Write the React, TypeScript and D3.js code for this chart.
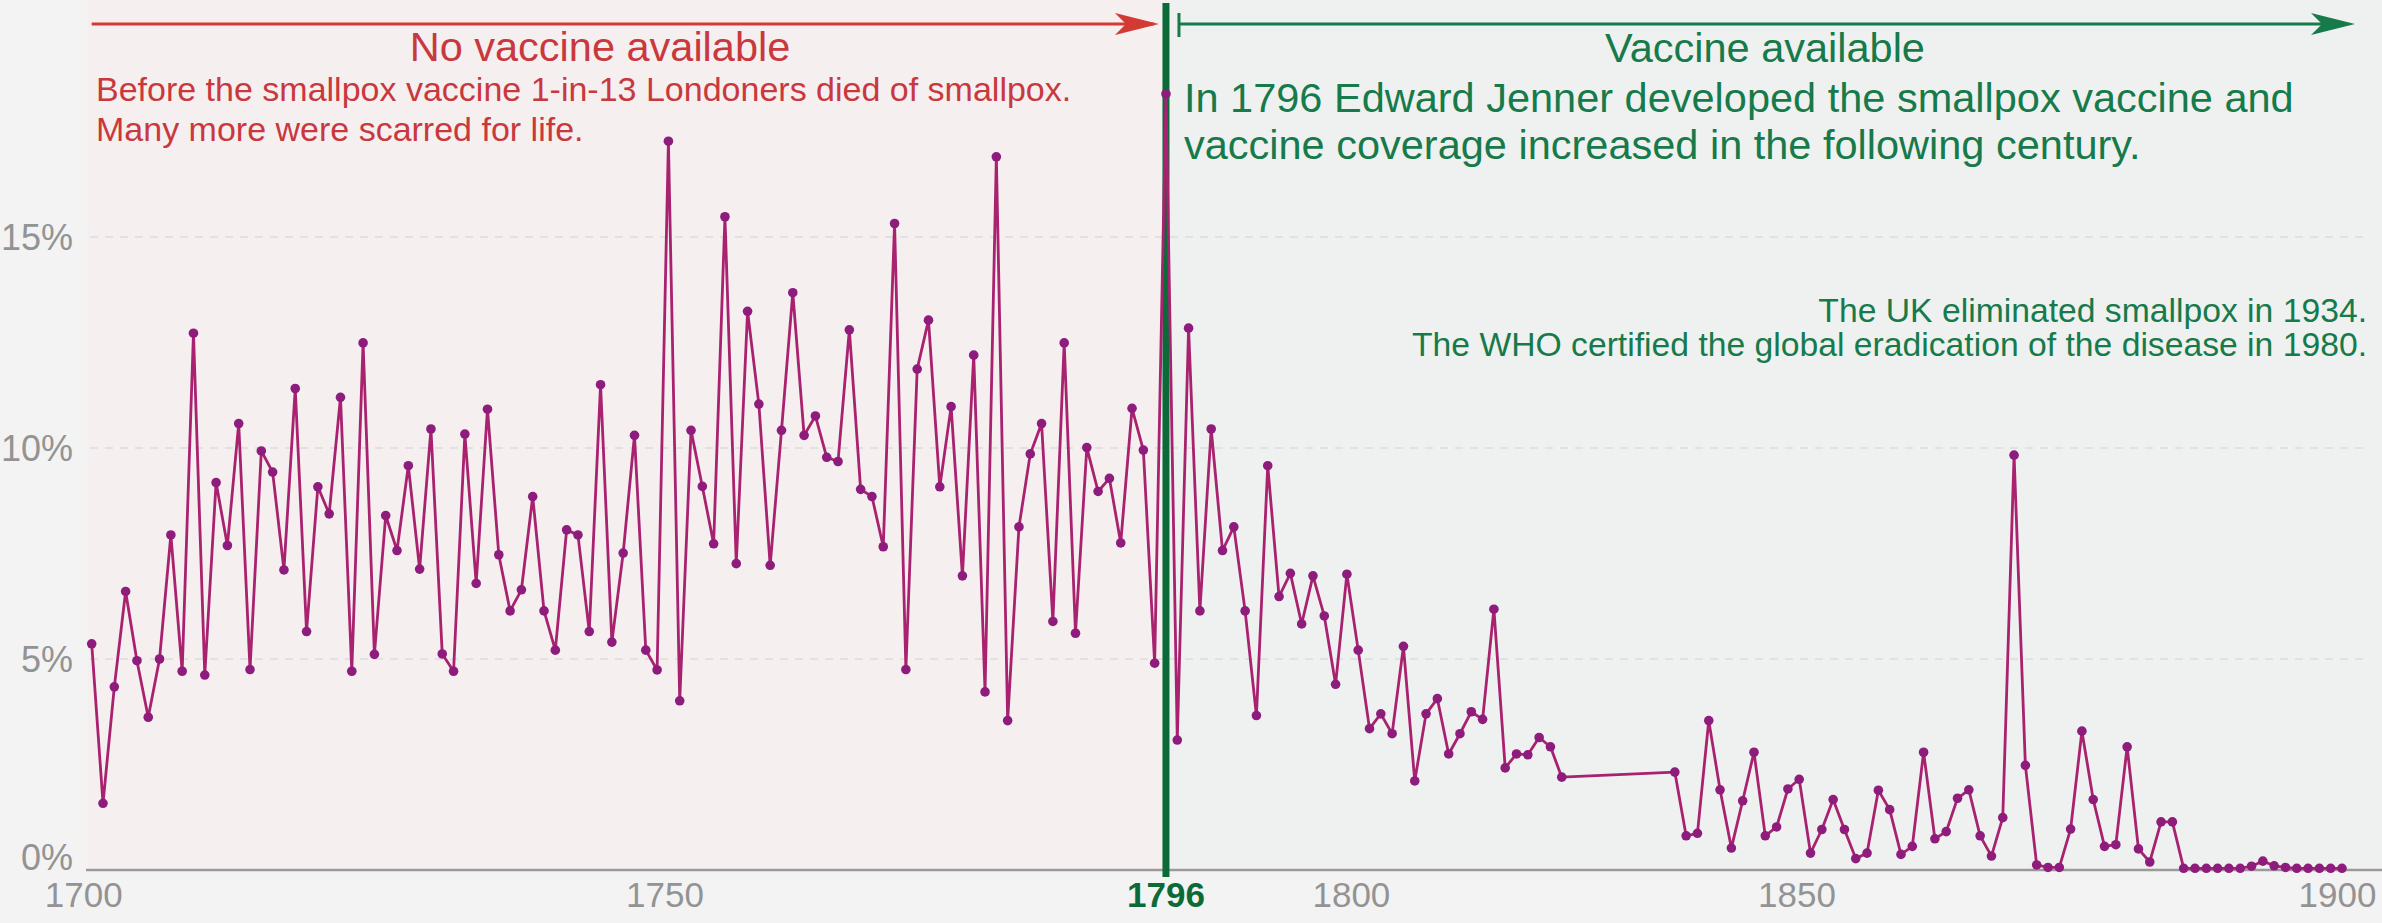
import * as d3 from 'd3';

// share of all deaths in London caused by smallpox, one value per year from 1701
// null = no record (the line just bridges the gap, like the original)
const firstYear = 1701;
const deathShare: (number | null)[] = [
  5.36, 1.58, 4.34, 6.6, 4.96, 3.62, 5.0, 7.94, 4.71, 12.72,
  4.62, 9.18, 7.69, 10.58, 4.75, 9.93, 9.43, 7.11, 11.41, 5.65,
  9.08, 8.44, 11.2, 4.71, 12.49, 5.11, 8.4, 7.57, 9.58, 7.13,
  10.45, 5.12, 4.71, 10.33, 6.79, 10.92, 7.47, 6.14, 6.64, 8.85,
  6.14, 5.21, 8.06, 7.94, 5.65, 11.5, 5.4, 7.51, 10.3, 5.21,
  4.74, 17.27, 4.01, 10.42, 9.09, 7.73, 15.48, 7.26, 13.24, 11.04,
  7.22, 10.42, 13.68, 10.3, 10.76, 9.78, 9.68, 12.8, 9.02, 8.85,
  7.66, 15.32, 4.75, 11.87, 13.03, 9.08, 10.98, 6.97, 12.2, 4.22,
  16.9, 3.54, 8.13, 9.86, 10.58, 5.89, 12.49, 5.61, 10.01, 8.97,
  9.28, 7.75, 10.94, 9.95, 4.9, 18.39, 3.08, 12.84, 6.14, 10.45,
  7.57, 8.13, 6.14, 3.66, 9.58, 6.48, 7.03, 5.83, 6.97, 6.02,
  4.4, 7.01, 5.21, 3.35, 3.7, 3.23, 5.3, 2.11, 3.7, 4.06,
  2.75, 3.23, 3.75, 3.57, 6.18, 2.42, 2.75, 2.73, 3.14, 2.92,
  2.2, null, null, null, null, null, null, null, null, null,
  2.32, 0.81, 0.87, 3.54, 1.9, 0.52, 1.64, 2.79, 0.81, 1.02,
  1.92, 2.15, 0.4, 0.96, 1.67, 0.96, 0.27, 0.4, 1.89, 1.43,
  0.37, 0.56, 2.79, 0.74, 0.91, 1.7, 1.9, 0.81, 0.33, 1.24,
  9.83, 2.48, 0.12, 0.06, 0.06, 0.97, 3.29, 1.67, 0.56, 0.6,
  2.92, 0.5, 0.19, 1.14, 1.14, 0.04, 0.04, 0.04, 0.04, 0.04,
  0.04, 0.09, 0.21, 0.1, 0.06, 0.04, 0.04, 0.04, 0.04, 0.04,
];

const vaccineYear = 1796;
const yTicks = [0, 5, 10, 15];
// the original prints its year labels where it likes, so keep their spots on the year axis
const xTickLabels = ['1700', '1750', '1796', '1800', '1850', '1900'];
const xTickAt = [1700.3, 1751.7, 1796, 1812.4, 1851.8, 1899.6];

const beforeTitle = 'No vaccine available';
const afterTitle = 'Vaccine available';
const beforeNote = [
  'Before the smallpox vaccine 1-in-13 Londoners died of smallpox.',
  'Many more were scarred for life.',
];
const afterNote = [
  'In 1796 Edward Jenner developed the smallpox vaccine and',
  'vaccine coverage increased in the following century.',
];
const eradicationNote = [
  'The UK eliminated smallpox in 1934.',
  'The WHO certified the global eradication of the disease in 1980.',
];

const width = 2382;
const height = 923;
const font = '"Liberation Sans", Arial, Helvetica, sans-serif';
const red = '#c9383d';
const green = '#177a4a';
const darkGreen = '#0c6a39';
const grey = '#939393';

export default function App() {
  const points = deathShare
    .map((v, i) => ({ year: firstYear + i, value: v }))
    .filter((d) => d.value !== null) as { year: number; value: number }[];

  const x = d3.scaleLinear().domain([firstYear, 1900]).range([91.7, 2342]);
  const y = d3.scaleLinear().domain([0, 15]).range([870, 237]);

  const line = d3
    .line<{ year: number; value: number }>()
    .x((d) => x(d.year))
    .y((d) => y(d.value));

  const plotLeft = 88;
  const xv = x(vaccineYear);
  const baseY = y(0);
  const arrowY = 24;

  const arrowHead = (tipX: number) =>
    `M${tipX},${arrowY} L${tipX - 44},${arrowY - 11} L${tipX - 33},${arrowY} L${tipX - 44},${arrowY + 11} Z`;

  return (
    <div style={{ position: 'absolute', left: 0, top: 0, width, height, background: '#f3f3f3' }}>
      <svg width={width} height={height} style={{ display: 'block', fontFamily: font }}>
        {/* period backgrounds */}
        <rect x={plotLeft} y={0} width={xv - plotLeft} height={baseY} fill="#f5eff0" />
        <rect x={xv} y={0} width={width - xv} height={baseY} fill="#eff1f0" />

        {/* grid */}
        {yTicks
          .filter((t) => t > 0)
          .map((t) => (
            <line
              key={t}
              x1={plotLeft + 2}
              x2={2365}
              y1={y(t)}
              y2={y(t)}
              stroke="#dcdcdc"
              strokeWidth={1.5}
              strokeDasharray="8 7"
            />
          ))}

        {/* y labels */}
        {yTicks.map((t) => (
          <text
            key={t}
            x={73}
            y={t === 0 ? baseY : y(t) + 13}
            textAnchor="end"
            fontSize={36}
            fill={grey}
          >
            {`${t}%`}
          </text>
        ))}

        {/* x axis */}
        <line x1={86} x2={width} y1={baseY} y2={baseY} stroke="#9a9a9a" strokeWidth={2.5} />
        {xTickLabels.map((label, i) => (
          <text
            key={label}
            x={x(xTickAt[i])}
            y={907}
            textAnchor="middle"
            fontSize={35}
            fontWeight={label === String(vaccineYear) ? 'bold' : 'normal'}
            fill={label === String(vaccineYear) ? darkGreen : grey}
          >
            {label}
          </text>
        ))}

        {/* vaccine line */}
        <line x1={xv} x2={xv} y1={3} y2={877} stroke={darkGreen} strokeWidth={7} />

        {/* period arrows */}
        <line x1={x(firstYear)} x2={xv - 12} y1={arrowY} y2={arrowY} stroke="#d23a33" strokeWidth={3} />
        <path d={arrowHead(xv - 7)} fill="#d23a33" />
        <line x1={xv + 13} x2={width - 40} y1={arrowY} y2={arrowY} stroke={green} strokeWidth={3} />
        <line x1={xv + 13} x2={xv + 13} y1={13} y2={37} stroke={green} strokeWidth={3} />
        <path d={arrowHead(width - 27)} fill={green} />

        <text x={600} y={61} textAnchor="middle" fontSize={41.5} fill={red}>
          {beforeTitle}
        </text>
        <text x={1765} y={62} textAnchor="middle" fontSize={41.5} fill={green}>
          {afterTitle}
        </text>

        {beforeNote.map((t, i) => (
          <text key={t} x={96} y={101 + i * 40} fontSize={34} fill={red}>
            {t}
          </text>
        ))}
        {afterNote.map((t, i) => (
          <text key={t} x={xv + 18} y={112 + i * 47} fontSize={41.5} fill={green}>
            {t}
          </text>
        ))}
        {eradicationNote.map((t, i) => (
          <text key={t} x={2367} y={322 + i * 34} textAnchor="end" fontSize={33.7} fill={green}>
            {t}
          </text>
        ))}

        {/* series */}
        <path d={line(points) ?? ''} fill="none" stroke="#a8226f" strokeWidth={2.8} strokeLinejoin="round" />
        {points.map((d) => (
          <circle key={d.year} cx={x(d.year)} cy={y(d.value)} r={4.8} fill="#8e1c7c" />
        ))}
      </svg>
    </div>
  );
}
